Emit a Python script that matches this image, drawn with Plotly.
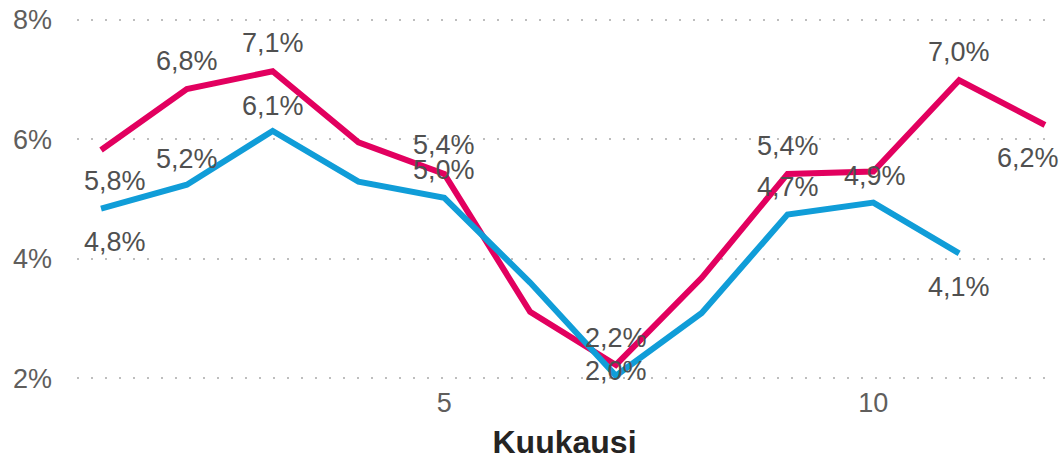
import plotly.graph_objects as go

# ---- data ----
months = [1, 2, 3, 4, 5, 6, 7, 8, 9, 10, 11, 12]
pink_values = [5.82, 6.84, 7.14, 5.95, 5.42, 3.11, 2.22, 3.68, 5.42, 5.46, 6.99, 6.24]
blue_values = [4.84, 5.24, 6.14, 5.29, 5.02, 3.60, 2.04, 3.09, 4.74, 4.94, 4.09]
y_ticks = [2, 4, 6, 8]
y_tick_labels = ["2%", "4%", "6%", "8%"]
x_ticks = [5, 10]
x_title = "Kuukausi"

# label placement (style): month -> (yshift, xshift)
pink_labels = {1: (-31, 14), 2: (28, 0), 3: (28, 0), 5: (29, 0), 7: (27, 0),
               9: (28, 0), 11: (28, 0), 12: (-33, -17)}
blue_labels = {1: (-33, 14), 2: (26, 0), 3: (25, 0), 5: (28, 0), 7: (5, 0),
               9: (28, 0), 10: (27, 2), 11: (-34, 0)}

PINK = "#E2005F"
BLUE = "#109DD8"
LABEL_COLOR = "#505050"
FONT = "Liberation Sans, Arial, sans-serif"


def fmt(v):
    return f"{v:.1f}".replace(".", ",") + "%"


fig = go.Figure()
fig.add_trace(go.Scatter(x=months[:len(pink_values)], y=pink_values, mode="lines",
                         line=dict(color=PINK, width=6), hoverinfo="skip"))
fig.add_trace(go.Scatter(x=months[:len(blue_values)], y=blue_values, mode="lines",
                         line=dict(color=BLUE, width=6), hoverinfo="skip"))

annotations = []
for vals, spec in ((pink_values, pink_labels), (blue_values, blue_labels)):
    for m, (ys, xs) in spec.items():
        v = vals[months.index(m)]
        annotations.append(dict(x=m, y=v, xref="x", yref="y", text=fmt(v),
                                showarrow=False, yshift=ys, xshift=xs,
                                xanchor="center", yanchor="middle",
                                font=dict(family=FONT, size=27, color=LABEL_COLOR)))

fig.update_layout(
    width=1063, height=460,
    margin=dict(l=77, r=11, t=8, b=70),
    paper_bgcolor="white", plot_bgcolor="white",
    showlegend=False,
    annotations=annotations,
    font=dict(family=FONT),
)
fig.update_xaxes(range=[0.72, 12.082], tickvals=x_ticks, showgrid=False,
                 zeroline=False, showline=False, automargin=False,
                 ticklabelstandoff=-6,
                 tickfont=dict(family=FONT, size=27, color="#605E5C"),
                 title=dict(text=f"<b>{x_title}</b>", standoff=24,
                            font=dict(family=FONT, size=32, color="#252423")))
fig.update_yaxes(range=[1.8, 8.2], tickvals=y_ticks, ticktext=y_tick_labels,
                 showgrid=True, gridcolor="#BEBEBE", gridwidth=2, griddash="2px,12px",
                 zeroline=False, showline=False, ticklabelstandoff=24, automargin=False,
                 tickfont=dict(family=FONT, size=27, color="#605E5C"))

fig.write_html("out.html")
